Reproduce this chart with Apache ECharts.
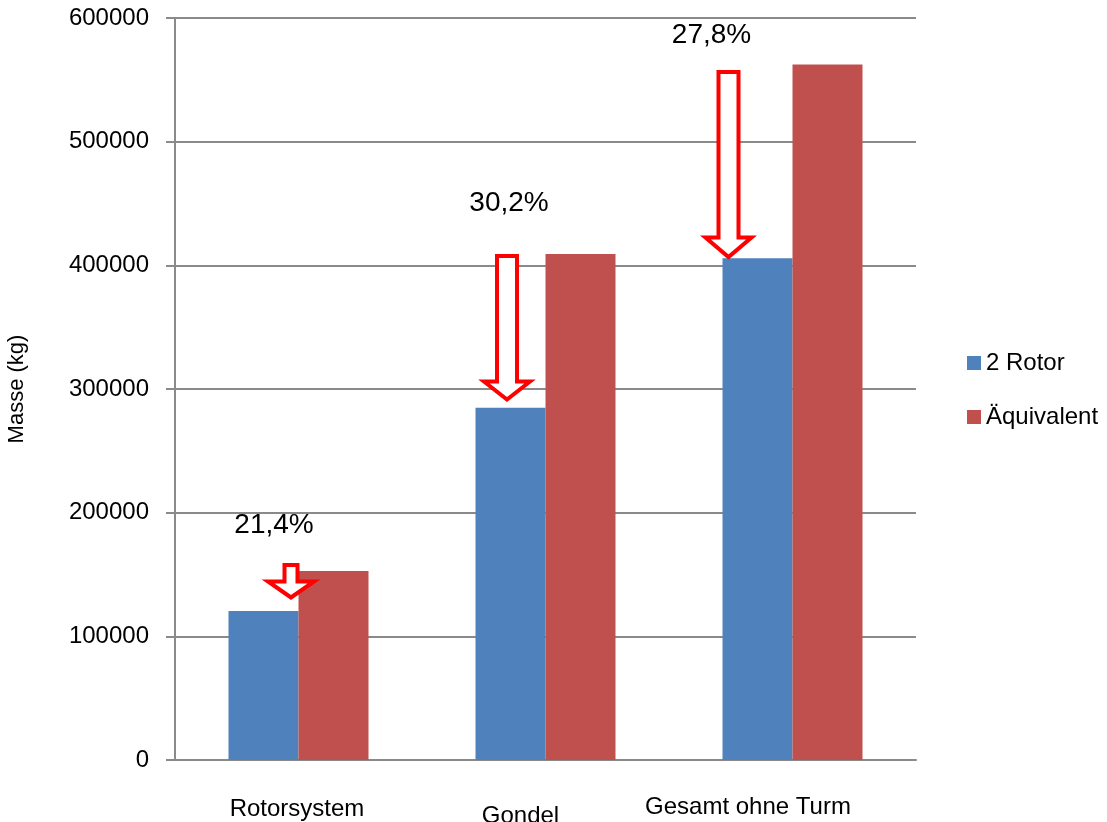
<!DOCTYPE html>
<html>
<head>
<meta charset="utf-8">
<script src="https://cdn.jsdelivr.net/npm/echarts@6/dist/echarts.min.js"></script>
<style>
  html, body { margin: 0; padding: 0; background: #fff; }
  #chart { width: 1107px; height: 822px; }
</style>
</head>
<body>
<div id="chart"></div>
<script>
// Daten
var categories = ['Rotorsystem', 'Gondel', 'Gesamt ohne Turm'];
var rotor2 = [120500, 284900, 405700];
var aequivalent = [152800, 409200, 562500];
var reduction = ['21,4%', '30,2%', '27,8%'];
// Pfeile (Anfang / Spitze in kg) und Lage der Prozent-Beschriftung
var arrowFrom = [157700, 407500, 556300];
var arrowTo = [131400, 291500, 406700];
var labelAt = [190000, 450400, 586300];

// Layout der Pfeile (px relativ zur Kategoriemitte)
var arrowDx = [-7.5, -38.5, -64];
var shaftHalf = [6.5, 10, 10];
var headHalf = [23, 23, 23];
var headLen = [16, 18, 19.5];
var labelDx = [-24.5, -36.5, -81];

var FONT = '"Liberation Sans", Arial, sans-serif';
var GRID = '#8a8a8a';

var myChart = echarts.init(document.getElementById('chart'));

var arrowData = categories.map(function (c, i) {
  return [i, arrowFrom[i], arrowTo[i], labelAt[i]];
});

var option = {
  animation: false,
  backgroundColor: '#fff',
  grid: { left: 175, right: 191, top: 18, bottom: 62, outerBoundsMode: 'none' },
  legend: {
    orient: 'vertical',
    left: 967,
    top: 351,
    padding: 0,
    itemWidth: 14,
    itemHeight: 14,
    itemGap: 30,
    icon: 'rect',
    textStyle: { fontFamily: FONT, fontSize: 24, color: '#000', lineHeight: 24 },
    data: ['2 Rotor', 'Äquivalent']
  },
  xAxis: {
    type: 'category',
    data: [
      { value: categories[0], textStyle: { padding: [2, 3, 0, 0] } },
      { value: categories[1], textStyle: { padding: [9, 50, 0, 0] } },
      { value: categories[2], textStyle: { padding: [0, 89, 0, 0] } }
    ],
    axisLine: { show: true, lineStyle: { color: GRID, width: 2 } },
    axisTick: { show: false },
    axisLabel: { interval: 0, margin: 35, fontFamily: FONT, fontSize: 24, color: '#000' },
    splitLine: { show: false }
  },
  yAxis: {
    type: 'value',
    min: 0,
    max: 600000,
    interval: 100000,
    name: 'Masse (kg)',
    nameLocation: 'middle',
    nameGap: 147,
    nameRotate: 90,
    nameTextStyle: { fontFamily: FONT, fontSize: 22, color: '#000' },
    axisLine: { show: true, lineStyle: { color: GRID, width: 2 } },
    axisTick: { show: true, length: 9, lineStyle: { color: GRID, width: 2 } },
    axisLabel: {
      margin: 26,
      fontFamily: FONT,
      fontSize: 24,
      color: '#000',
      padding: [4, 0, 0, 0],
      formatter: function (v) { return String(v); }
    },
    splitLine: { show: true, lineStyle: { color: GRID, width: 2 } }
  },
  series: [
    {
      name: '2 Rotor',
      type: 'bar',
      data: rotor2,
      barWidth: 70,
      barGap: '0%',
      itemStyle: { color: '#4F81BD' },
      emphasis: { disabled: true }
    },
    {
      name: 'Äquivalent',
      type: 'bar',
      data: aequivalent,
      barWidth: 70,
      barGap: '0%',
      itemStyle: { color: '#C0504D' },
      emphasis: { disabled: true }
    },
    // Pfeile mit Prozentangabe
    {
      type: 'custom',
      z: 10,
      data: arrowData,
      renderItem: function (params, api) {
        var i = params.dataIndex;
        var top = api.coord([api.value(0), api.value(1)]);
        var tip = api.coord([api.value(0), api.value(2)]);
        var lab = api.coord([api.value(0), api.value(3)]);
        var x = top[0] + arrowDx[i];
        var sw = shaftHalf[i], hw = headHalf[i], hl = headLen[i];
        var yb = tip[1] - hl;
        return {
          type: 'group',
          children: [
            {
              type: 'polygon',
              shape: {
                points: [
                  [x - sw, top[1]], [x + sw, top[1]], [x + sw, yb], [x + hw, yb],
                  [x, tip[1]], [x - hw, yb], [x - sw, yb]
                ]
              },
              style: { fill: '#fff', stroke: '#ff0000', lineWidth: 4, lineJoin: 'miter' }
            },
            {
              type: 'text',
              x: top[0] + labelDx[i],
              y: lab[1],
              style: {
                text: reduction[i],
                fontFamily: FONT,
                fontSize: 28,
                fill: '#000',
                align: 'center',
                verticalAlign: 'middle'
              }
            }
          ]
        };
      }
    }
  ]
};

myChart.setOption(option);

window.addEventListener('resize', function () {
  myChart.resize();
});
</script>
</body>
</html>
